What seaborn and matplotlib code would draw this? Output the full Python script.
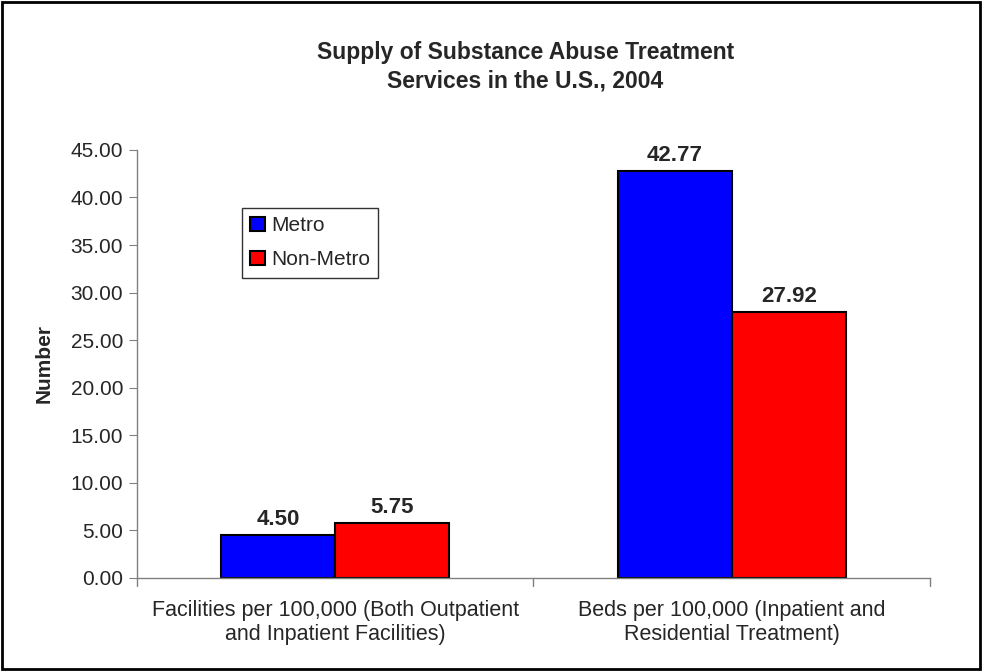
import matplotlib
matplotlib.use('Agg')

import pandas as pd
import matplotlib.pyplot as plt
from matplotlib.patches import Rectangle
import seaborn as sns

# 数据
categories = ["Facilities per 100,000 (Both Outpatient\nand Inpatient Facilities)",
              "Beds per 100,000 (Inpatient and\nResidential Treatment)"]
groups = ["Metro", "Non-Metro"]
metro_values = [4.50, 42.77]
nonmetro_values = [5.75, 27.92]
y_ticks = [0, 5, 10, 15, 20, 25, 30, 35, 40, 45]

df = pd.DataFrame({
    "category": categories * 2,
    "group": [groups[0]] * 2 + [groups[1]] * 2,
    "value": metro_values + nonmetro_values,
})

sns.set_style("white")
plt.rcParams['font.family'] = ['Liberation Sans', 'DejaVu Sans']

fig = plt.figure(figsize=(9.82, 6.71), dpi=100)
ax = fig.add_axes([0.1395, 0.1386, 0.8075, 0.638])

sns.barplot(data=df, x="category", y="value", hue="group",
            palette={"Metro": "#0000FF", "Non-Metro": "#FF0000"},
            saturation=1, edgecolor="black", linewidth=1.5, width=0.576, ax=ax)

# 数值标签
for cont in ax.containers:
    ax.bar_label(cont, fmt="%.2f", padding=4, fontsize=16, fontweight='bold')

ax.set_xlim(-0.5, 1.5)
ax.set_ylim(0, 45)
ax.set_yticks(y_ticks)
ax.set_yticklabels([f"{v:.2f}" for v in y_ticks], fontsize=15)
ax.set_xticks([0, 1])
ax.set_xticklabels(categories, fontsize=15.5)
ax.tick_params(axis='x', length=0, pad=16)
ax.tick_params(axis='y', length=6, color='#808080', left=True, direction='out', pad=4)

# 类别分隔刻度
for xb in [-0.5, 0.5, 1.5]:
    ax.plot([xb, xb], [0, -0.018], transform=ax.get_xaxis_transform(),
            color='#808080', lw=1, clip_on=False)

ax.set_xlabel("")
ax.set_ylabel("Number", fontsize=15, fontweight='bold', labelpad=12)

for side in ['top', 'right']:
    ax.spines[side].set_visible(False)
for side in ['left', 'bottom']:
    ax.spines[side].set_color('#808080')
    ax.spines[side].set_linewidth(1)

leg = ax.legend(loc='upper left', bbox_to_anchor=(0.132, 0.864), borderaxespad=0,
                fontsize=15, frameon=True, fancybox=False, edgecolor='black',
                handlelength=0.7, handleheight=0.7, handletextpad=0.3,
                borderpad=0.4, labelspacing=0.72)
leg.get_frame().set_linewidth(1)

fig.text(0.535, 0.9, "Supply of Substance Abuse Treatment\nServices in the U.S., 2004",
         ha='center', va='center', fontsize=16.5, fontweight='bold', linespacing=1.3)

# 外边框
fig.patches.append(Rectangle((0.002, 0.003), 0.996, 0.994, transform=fig.transFigure,
                             fill=False, edgecolor='black', linewidth=2))

plt.savefig("out.png", dpi=100)
plt.close()
